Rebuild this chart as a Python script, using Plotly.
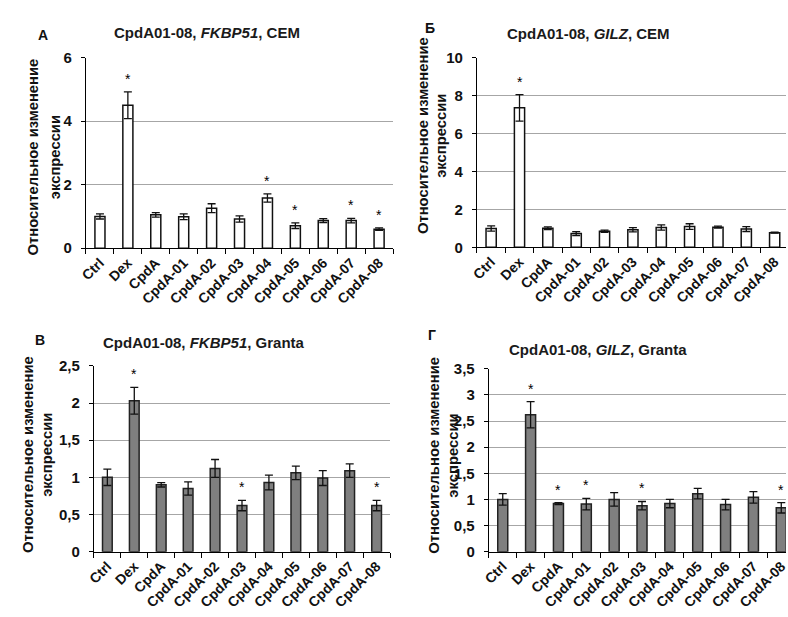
import plotly.graph_objects as go

categories = ["Ctrl", "Dex", "CpdA", "CpdA-01", "CpdA-02", "CpdA-03",
              "CpdA-04", "CpdA-05", "CpdA-06", "CpdA-07", "CpdA-08"]

# Panel А: FKBP51, CEM
fkbp51_cem = [1.00, 4.50, 1.05, 0.99, 1.26, 0.92, 1.58, 0.71, 0.87, 0.87, 0.60]
fkbp51_cem_err = [0.08, 0.42, 0.07, 0.09, 0.14, 0.10, 0.13, 0.09, 0.06, 0.07, 0.04]
fkbp51_cem_sig = [0, 1, 0, 0, 0, 0, 1, 1, 0, 1, 1]

# Panel Б: GILZ, CEM
gilz_cem = [0.99, 7.35, 1.00, 0.72, 0.84, 0.92, 1.04, 1.09, 1.06, 0.96, 0.77]
gilz_cem_err = [0.14, 0.70, 0.07, 0.10, 0.06, 0.11, 0.14, 0.15, 0.05, 0.13, 0.03]
gilz_cem_sig = [0, 1, 0, 0, 0, 0, 0, 0, 0, 0, 0]

# Panel В: FKBP51, Granta
fkbp51_granta = [1.00, 2.03, 0.90, 0.85, 1.12, 0.62, 0.93, 1.06, 0.99, 1.09, 0.62]
fkbp51_granta_err = [0.11, 0.18, 0.03, 0.09, 0.12, 0.07, 0.10, 0.09, 0.10, 0.09, 0.07]
fkbp51_granta_sig = [0, 1, 0, 0, 0, 1, 0, 0, 0, 0, 1]

# Panel Г: GILZ, Granta
gilz_granta = [1.00, 2.62, 0.92, 0.91, 1.00, 0.88, 0.92, 1.11, 0.90, 1.04, 0.84]
gilz_granta_err = [0.11, 0.25, 0.02, 0.11, 0.13, 0.08, 0.08, 0.10, 0.10, 0.11, 0.10]
gilz_granta_sig = [0, 1, 1, 1, 0, 1, 0, 0, 0, 0, 1]

y_title_1 = "Относительное изменение"
y_title_2 = "экспрессии"

W, H = 788, 617
def px(x):
    return x / W
def py(y):
    return 1 - y / H

FONT = "Liberation Sans, Arial, sans-serif"

panels = [
    dict(vals=fkbp51_cem, err=fkbp51_cem_err, sig=fkbp51_cem_sig,
         title="CpdA01-08, <i>FKBP51</i>, CEM", letter="А",
         xd=(79, 390), yd=(246, 50), yr=(0, 6), dtick=2, xr=(-0.5, 10.5),
         fill="white", line="#111111",
         title_pos=(202, 24), letter_pos=(35, 27),
         yt1=(25, 152), yt2=(47, 152)),
    dict(vals=gilz_cem, err=gilz_cem_err, sig=gilz_cem_sig,
         title="CpdA01-08, <i>GILZ</i>, CEM", letter="Б",
         xd=(475, 788), yd=(245, 50), yr=(0, 10), dtick=2, xr=(-0.5, 10.4),
         fill="white", line="#111111",
         title_pos=(588, 25), letter_pos=(427, 20),
         yt1=(421, 130), yt2=(439, 130)),
    dict(vals=fkbp51_granta, err=fkbp51_granta_err, sig=fkbp51_granta_sig,
         title="CpdA01-08, <i>FKBP51</i>, Granta", letter="В",
         xd=(87, 387), yd=(558, 367), yr=(0, 2.5), dtick=0.5, xr=(-0.5, 10.5),
         fill="#7f7f7f", line="#222222",
         title_pos=(199, 343), letter_pos=(32, 340),
         yt1=(21, 458), yt2=(40, 458)),
    dict(vals=gilz_granta, err=gilz_granta_err, sig=gilz_granta_sig,
         title="CpdA01-08, <i>GILZ</i>, Granta", letter="Г",
         xd=(487, 788), yd=(558, 370), yr=(0, 3.5), dtick=0.5, xr=(-0.5, 10.17),
         fill="#7f7f7f", line="#222222",
         title_pos=(598, 350), letter_pos=(429, 335),
         yt1=(432, 459), yt2=(451, 459)),
]

fig = go.Figure()
annotations = []
layout = {}

for i, p in enumerate(panels):
    n = "" if i == 0 else str(i + 1)
    xa, ya = "x" + n, "y" + n
    fig.add_trace(go.Bar(
        x=categories, y=p["vals"], xaxis=xa, yaxis=ya,
        width=0.36,
        marker=dict(color=p["fill"], line=dict(color=p["line"], width=1.5)),
        error_y=dict(type="data", array=p["err"], visible=True,
                     color="#111111", thickness=1.3, width=4),
        showlegend=False, hoverinfo="x+y",
    ))
    layout["xaxis" + n] = dict(
        domain=[px(p["xd"][0]), px(p["xd"][1])], anchor=ya,
        type="category", range=list(p["xr"]),
        showline=True, linecolor="black", linewidth=1.2,
        ticks="outside", tickson="boundaries", ticklen=5, tickcolor="black",
        tickangle=-45, showgrid=False,
        tickfont=dict(family=FONT, size=14, color="#111111", weight="bold"),
    )
    layout["yaxis" + n] = dict(
        domain=[py(p["yd"][0]), py(p["yd"][1])], anchor=xa,
        range=list(p["yr"]), dtick=p["dtick"], tick0=0,
        showline=True, linecolor="black", linewidth=1.2,
        ticks="outside", ticklen=4, tickcolor="black",
        showgrid=True, gridcolor="#a6a6a6", gridwidth=1,
        zeroline=False, ticklabelstandoff=6,
        tickfont=dict(family=FONT, size=15, color="#111111", weight="bold"),
    )
    annotations.append(dict(
        text=p["title"], x=px(p["title_pos"][0]), y=py(p["title_pos"][1]),
        xref="paper", yref="paper", showarrow=False,
        xanchor="center", yanchor="middle",
        font=dict(family=FONT, size=15, color="#1a1a1a", weight="bold")))
    annotations.append(dict(
        text=p["letter"], x=px(p["letter_pos"][0]), y=py(p["letter_pos"][1]),
        xref="paper", yref="paper", showarrow=False,
        xanchor="center", yanchor="middle",
        font=dict(family=FONT, size=14, color="#111111", weight="bold")))
    for txt, pos in ((y_title_1, p["yt1"]), (y_title_2, p["yt2"])):
        annotations.append(dict(
            text=txt, x=px(pos[0]), y=py(pos[1]),
            xref="paper", yref="paper", showarrow=False, textangle=-90,
            xanchor="center", yanchor="middle",
            font=dict(family=FONT, size=14.8, color="#111111", weight="bold")))
    for c, v, e, s in zip(categories, p["vals"], p["err"], p["sig"]):
        if s:
            annotations.append(dict(
                text="*", x=c, y=v + e, xref=xa, yref=ya, showarrow=False,
                xanchor="center", yanchor="bottom", yshift=3,
                font=dict(family=FONT, size=14, color="#000000")))

fig.update_layout(
    **layout,
    annotations=annotations,
    width=W, height=H,
    margin=dict(l=0, r=0, t=0, b=0),
    paper_bgcolor="white", plot_bgcolor="white",
    separators=", ",
    font=dict(family=FONT),
)

fig.write_html(
    "out.html",
    config={"displayModeBar": False},
    post_script="document.body.style.margin='0';document.body.style.overflow='hidden';",
)
